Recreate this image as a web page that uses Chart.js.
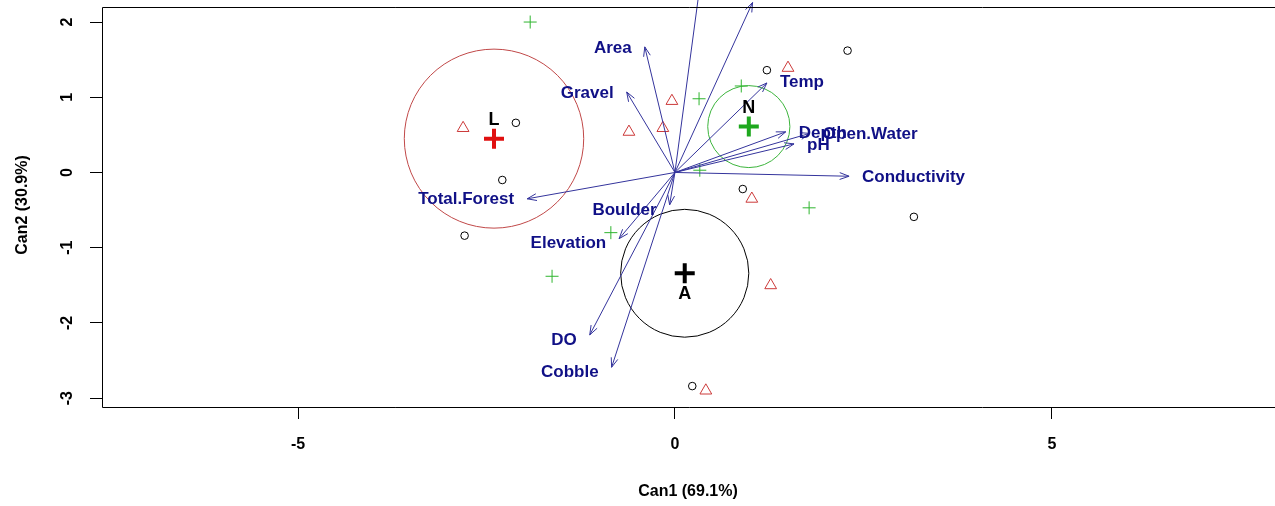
<!DOCTYPE html>
<html>
<head>
<meta charset="utf-8">
<script src="https://cdn.jsdelivr.net/npm/chart.js@4.4.1/dist/chart.umd.min.js"></script>
<style>
  html, body { margin: 0; padding: 0; background: #fff; }
  #wrap { width: 1275px; height: 506px; position: relative; }
</style>
</head>
<body>
<div id="wrap"><canvas id="c" width="1275" height="506"></canvas></div>
<script>
// Axis ticks and titles
const xTicks = [-5, 0, 5];
const yTicks = [-3, -2, -1, 0, 1, 2];
const xTitle = 'Can1 (69.1%)';
const yTitle = 'Can2 (30.9%)';

// Canonical scores of the observations, one pair of arrays per group
const groupA_x = [-2.11, -2.29, -2.79, 1.22, 2.29, 0.90, 3.17, 0.23];
const groupA_y = [0.66, -0.10, -0.84, 1.36, 1.62, -0.22, -0.59, -2.84];
const groupL_x = [-2.81, -0.04, -0.61, -0.16, 1.50, 1.02, 1.27, 0.41];
const groupL_y = [0.59, 0.95, 0.54, 0.59, 1.39, -0.35, -1.50, -2.90];
const groupN_x = [-1.92, 0.32, 0.88, 0.33, 1.78, -0.85, -1.63];
const groupN_y = [2.00, 0.98, 1.15, 0.03, -0.47, -0.80, -1.38];

// Group means and the radii of their confidence circles (canonical units)
const groupNames = ['A', 'L', 'N'];
const meanX = [0.13, -2.40, 0.98];
const meanY = [-1.34, 0.45, 0.61];
const circleRadius = [0.85, 1.19, 0.545];

// Structure coefficients of the predictors (vector tips)
const varNames = ['Area', 'Gravel', 'Total.Forest', 'Boulder', 'Elevation', 'DO', 'Cobble',
                  'Temp', 'Conductivity', 'pH', 'Depth', 'Open.Water', '', ''];
const varX = [-0.40, -0.64, -1.96, -0.07, -0.74, -1.13, -0.84, 1.22, 2.31, 1.58, 1.47, 1.79, 0.36, 1.03];
const varY = [1.67, 1.07, -0.35, -0.43, -0.88, -2.16, -2.59, 1.19, -0.05, 0.38, 0.54, 0.52, 2.70, 2.26];

const COL = { A: '#000000', L: '#cc3a3a', N: '#2fb52f', meanL: '#e01010', meanN: '#1ea81e',
              vec: '#34349c', vecText: '#101086' };
const FONT = '"Liberation Sans", Arial, sans-serif';

const toPts = (xs, ys) => xs.map((x, i) => ({ x, y: ys[i] }));

function arrow(ctx, x0, y0, x1, y1) {
  const a = Math.atan2(y1 - y0, x1 - x0);
  const len = 10, spread = Math.PI / 9;
  ctx.beginPath();
  ctx.moveTo(x0, y0);
  ctx.lineTo(x1, y1);
  ctx.moveTo(x1 - len * Math.cos(a - spread), y1 - len * Math.sin(a - spread));
  ctx.lineTo(x1, y1);
  ctx.lineTo(x1 - len * Math.cos(a + spread), y1 - len * Math.sin(a + spread));
  ctx.stroke();
}

const biplot = {
  id: 'biplot',
  beforeDatasetsDraw(chart) {
    const { ctx, chartArea: ca } = chart;
    const xs = chart.scales.x, ys = chart.scales.y;
    // confidence circles around group means
    ctx.save();
    ctx.beginPath();
    ctx.rect(ca.left, ca.top, ca.right - ca.left, ca.bottom - ca.top);
    ctx.clip();
    const circCol = { A: COL.A, L: '#c04848', N: '#3cb43c' };
    groupNames.forEach((g, i) => {
      const cx = xs.getPixelForValue(meanX[i]);
      const cy = ys.getPixelForValue(meanY[i]);
      const rx = Math.abs(xs.getPixelForValue(meanX[i] + circleRadius[i]) - cx);
      const ry = Math.abs(ys.getPixelForValue(meanY[i] + circleRadius[i]) - cy);
      ctx.strokeStyle = circCol[g];
      ctx.lineWidth = 1;
      ctx.beginPath();
      ctx.ellipse(cx, cy, rx, ry, 0, 0, Math.PI * 2);
      ctx.stroke();
    });
    ctx.restore();
  },
  afterDatasetsDraw(chart) {
    const { ctx } = chart;
    const xs = chart.scales.x, ys = chart.scales.y;
    const ox = xs.getPixelForValue(0), oy = ys.getPixelForValue(0);
    ctx.save();
    ctx.strokeStyle = COL.vec;
    ctx.lineWidth = 1;
    varNames.forEach((n, i) => {
      arrow(ctx, ox, oy, xs.getPixelForValue(varX[i]), ys.getPixelForValue(varY[i]));
    });
    ctx.fillStyle = COL.vecText;
    ctx.font = 'bold 17px ' + FONT;
    ctx.textBaseline = 'middle';
    varNames.forEach((n, i) => {
      if (!n) return;
      const px = xs.getPixelForValue(varX[i]), py = ys.getPixelForValue(varY[i]);
      // labels of steeply downward vectors sit a little lower than the tip
      const dy = varY[i] < -0.4 ? 4 : 0;
      if (varX[i] < 0) { ctx.textAlign = 'right'; ctx.fillText(n, px - 13, py + 1 + dy); }
      else { ctx.textAlign = 'left'; ctx.fillText(n, px + 13, py + dy - (varY[i] > 1 ? 1 : -1)); }
    });
    // group labels next to the means
    ctx.fillStyle = '#000';
    ctx.font = 'bold 18px ' + FONT;
    ctx.textAlign = 'center';
    groupNames.forEach((g, i) => {
      const px = xs.getPixelForValue(meanX[i]), py = ys.getPixelForValue(meanY[i]);
      const dy = meanY[i] < 0 ? 21 : -19;
      ctx.fillText(g, px, py + dy);
    });
    ctx.restore();
  },
  afterDraw(chart) {
    const { ctx, chartArea: ca } = chart;
    const ys = chart.scales.y;
    ctx.save();
    // plot frame (right edge lies past the canvas)
    ctx.strokeStyle = '#000';
    ctx.lineWidth = 1;
    ctx.beginPath();
    ctx.moveTo(ca.right + 2, ca.top + 0.5);
    ctx.lineTo(ca.left + 0.5, ca.top + 0.5);
    ctx.lineTo(ca.left + 0.5, ca.bottom + 0.5);
    ctx.lineTo(ca.right + 2, ca.bottom + 0.5);
    ctx.stroke();
    // rotated y tick labels
    ctx.fillStyle = '#000';
    ctx.font = 'bold 16px ' + FONT;
    ctx.textAlign = 'center';
    ctx.textBaseline = 'middle';
    yTicks.forEach(v => {
      const py = ys.getPixelForValue(v);
      ctx.save();
      ctx.translate(68, py);
      ctx.rotate(-Math.PI / 2);
      ctx.fillText(String(v), 0, 0);
      ctx.restore();
    });
    // axis titles
    ctx.font = 'bold 16px ' + FONT;
    ctx.fillText(xTitle, 688, 492);
    ctx.save();
    ctx.translate(23, 205);
    ctx.rotate(-Math.PI / 2);
    ctx.fillText(yTitle, 0, 0);
    ctx.restore();
    ctx.restore();
  }
};

new Chart(document.getElementById('c'), {
  type: 'scatter',
  data: {
    datasets: [
      { label: 'A', data: toPts(groupA_x, groupA_y), pointStyle: 'circle', radius: 3.8,
        borderColor: COL.A, backgroundColor: 'rgba(0,0,0,0)', borderWidth: 1 },
      { label: 'L', data: toPts(groupL_x, groupL_y), pointStyle: 'triangle', radius: 6.8,
        borderColor: COL.L, backgroundColor: 'rgba(0,0,0,0)', borderWidth: 1 },
      { label: 'N', data: toPts(groupN_x, groupN_y), pointStyle: 'cross', radius: 6.5,
        borderColor: COL.N, borderWidth: 1 },
      { label: 'means', data: toPts(meanX, meanY), pointStyle: 'cross', radius: 10,
        borderColor: [COL.A, COL.meanL, COL.meanN], borderWidth: 4 }
    ]
  },
  options: {
    responsive: false,
    animation: false,
    events: [],
    layout: { autoPadding: false, padding: { top: 7, right: 0, left: 0, bottom: 0 } },
    plugins: { legend: { display: false }, tooltip: { enabled: false } },
    scales: {
      x: {
        type: 'linear', position: 'bottom', min: -7.6, max: 7.96,
        afterBuildTicks: s => { s.ticks = xTicks.map(v => ({ value: v })); },
        afterFit: s => { s.height = 99; s.paddingLeft = 0; s.paddingRight = 0; },
        border: { display: false },
        grid: { drawOnChartArea: false, drawTicks: true, tickLength: 12, color: '#000', lineWidth: 1 },
        ticks: { color: '#000', font: { family: FONT, weight: 'bold', size: 16 }, padding: 16,
                 maxRotation: 0, autoSkip: false }
      },
      y: {
        type: 'linear', position: 'left', min: -3.118, max: 2.20,
        afterBuildTicks: s => { s.ticks = yTicks.map(v => ({ value: v })); },
        afterFit: s => { s.width = 102; s.paddingTop = 0; s.paddingBottom = 0; },
        border: { display: false },
        grid: { drawOnChartArea: false, drawTicks: true, tickLength: 12, color: '#000', lineWidth: 1 },
        ticks: { display: false }
      }
    }
  },
  plugins: [biplot]
});
</script>
</body>
</html>
